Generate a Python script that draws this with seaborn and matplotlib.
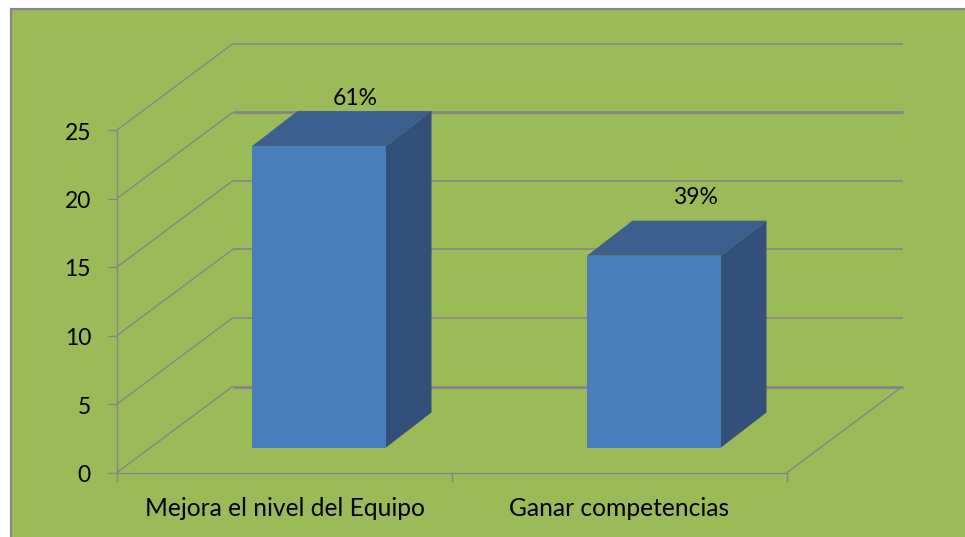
import matplotlib
matplotlib.use("Agg")
import matplotlib.pyplot as plt
import seaborn as sns
from matplotlib.patches import Polygon, Rectangle

categories = ["Mejora el nivel del Equipo", "Ganar competencias"]
values = [22, 14]
pct_labels = ["61%", "39%"]
y_ticks = [0, 5, 10, 15, 20, 25]

W, H = 965, 537
GREEN = "#9BBB59"
GREY = "#868686"
FRONT = "#4A7EBB"
TOP = "#3C5F8E"
SIDE = "#325079"
# hand placed data labels in the original, pixels from bar centre / box top
LABEL_SHIFT = [(36, 13), (41.5, 23.5)]

sns.set_style("white")
plt.rcParams["font.family"] = ["Lato", "DejaVu Sans"]

fig = plt.figure(figsize=(W / 100, H / 100), dpi=100, facecolor="white")
# green slide panel, open on the right and bottom edges of the crop
fig.add_artist(Rectangle((11 / W, -0.01), 1, 1 - 8.5 / H + 0.01, transform=fig.transFigure,
                         facecolor=GREEN, edgecolor=GREY, linewidth=1.6, zorder=-1))

# front plane of the fake 3d chart
ax = fig.add_axes([117 / W, 1 - 472.5 / H, 670 / W, 342.5 / H])
ax.patch.set_visible(False)
sns.barplot(x=categories, y=values, width=0.4, color=FRONT, saturation=1, ax=ax, zorder=5)
ax.set_xlim(-0.5, 1.5)
ax.set_ylim(0, 25)
ax.set_yticks(y_ticks)
ax.set_xticks([-0.5, 0.5, 1.5])
ax.set_xticklabels([])
ax.set_yticklabels([])
ax.set_xlabel("")
ax.set_ylabel("")
ax.tick_params(axis="both", length=6.5, width=1, color=GREY, left=True, bottom=True)
for s in ["top", "right"]:
    ax.spines[s].set_visible(False)
for s in ["left", "bottom"]:
    ax.spines[s].set_color(GREY)
    ax.spines[s].set_linewidth(1)

px = 2 / 670  # data x per pixel
py = 25 / 342.5  # data y per pixel
depth_x, depth_y = 115.5 * px, 86 * py
bar_dx, bar_dy = 34.5 * px, 25 * py
box_dx, box_dy = 45.5 * px, 35 * py

# back wall and side wall gridlines
for v in y_ticks:
    lw = 2 if v in (0, 20) else 1.2
    ax.plot([-0.5 + depth_x, 1.5 + depth_x], [v + depth_y, v + depth_y], color=GREY, lw=lw,
            clip_on=False, zorder=1, solid_capstyle="butt")
    ax.plot([-0.5, -0.5 + depth_x], [v, v + depth_y], color=GREY, lw=1, clip_on=False, zorder=1)
ax.plot([1.5, 1.5 + depth_x], [0, depth_y], color=GREY, lw=1, clip_on=False, zorder=1)

# shift bars onto the middle of the floor and add the top and side faces
for bar, pct, shift in zip(ax.patches, pct_labels, LABEL_SHIFT):
    bar.set_xy((bar.get_x() + bar_dx, bar_dy))
    bar.set_clip_on(False)
    bar.set_linewidth(0)
    x0, x1 = bar.get_x(), bar.get_x() + bar.get_width()
    y0, y1 = bar_dy, bar_dy + bar.get_height()
    ax.add_patch(Polygon([(x0, y1), (x1, y1), (x1 + box_dx, y1 + box_dy), (x0 + box_dx, y1 + box_dy)],
                         facecolor=TOP, edgecolor="none", clip_on=False, zorder=4))
    ax.add_patch(Polygon([(x1, y0), (x1 + box_dx, y0 + box_dy), (x1 + box_dx, y1 + box_dy), (x1, y1)],
                         facecolor=SIDE, edgecolor="none", clip_on=False, zorder=4))
    ax.text((x0 + x1) / 2 + shift[0] * px, y1 + box_dy + shift[1] * py, pct, ha="center", va="center",
            fontsize=16.5, color="black", zorder=6)

for v in y_ticks:
    ax.text(-0.5 - 26 * px, v - 3 * py, str(v), ha="right", va="center", fontsize=16.5, color="black")
for i, name in enumerate(categories):
    ax.text(i, -36 * py, name, ha="center", va="center", fontsize=17.7, color="black")

fig.savefig("out.png", dpi=100, facecolor="white")
